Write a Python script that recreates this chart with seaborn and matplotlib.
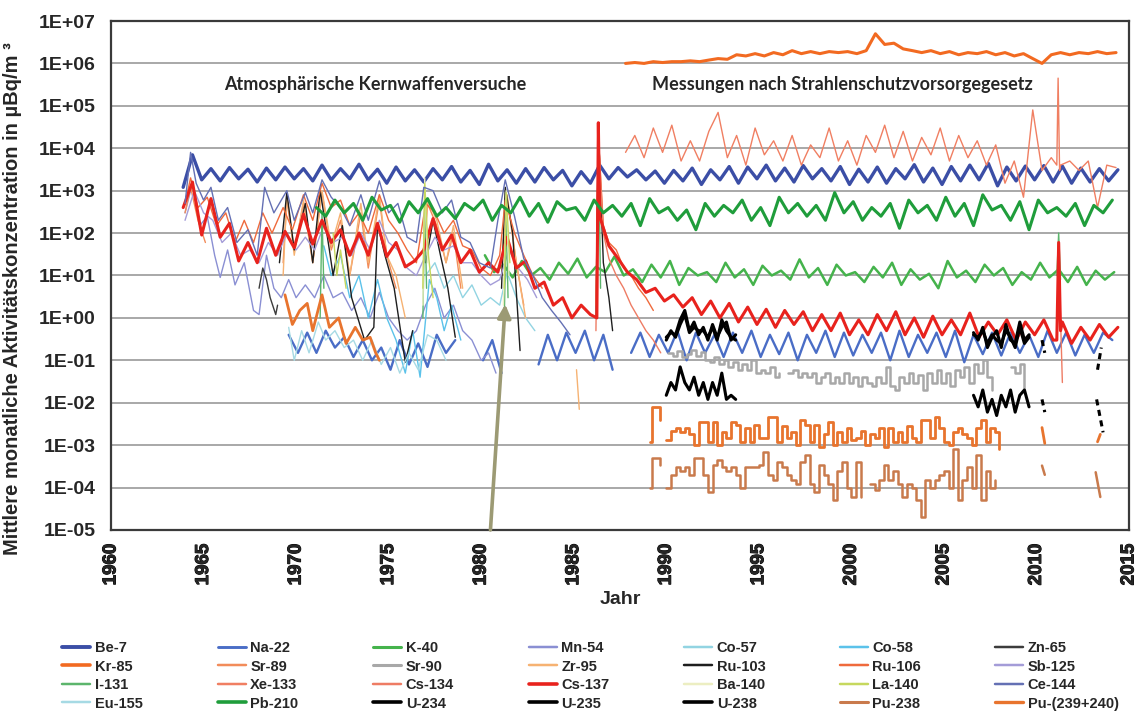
import numpy as np
import matplotlib
matplotlib.use("Agg")
import matplotlib.pyplot as plt
import matplotlib.patheffects as pe
from matplotlib.lines import Line2D
from matplotlib.ticker import FixedLocator, MultipleLocator, NullLocator, FuncFormatter
import seaborn as sns

nan = np.nan

# ------------------------------------------------------------------
# Data (µBq/m³), approximate values
# Half-year grids: value i belongs to year start + 0.5*i
# ------------------------------------------------------------------
be7_start = 1963.9
be7 = [1200, 7000, 1800, 3300, 1700, 3500, 1900, 3200, 1600, 3400,
       1800, 3600, 1900, 3300, 1700, 4000, 1800, 3300, 1900, 4200,
       1800, 3200, 1500, 3600, 1700, 3100, 1600, 3300, 1800, 3700,
       1600, 3000, 1400, 4200, 1700, 3100, 1500, 3300, 1600, 3500,
       1800, 3000, 1300, 2800, 1500, 4000, 1900, 3500, 2100, 3100,
       1800, 2900, 1500, 3000, 1700, 3400, 1400, 3100, 1800, 3700,
       1500, 3600, 1900, 4000, 1700, 3400, 1600, 3900, 1900, 3300,
       1700, 3700, 1400, 3200, 1600, 3600, 1500, 3300, 1900, 4100,
       1600, 3400, 1400, 3700, 1700, 4000, 1800, 4400, 1300, 3600,
       1700, 3800, 1800, 3900, 1600, 3800, 1500, 3400, 1600, 3300,
       1700, 3100]

na22_start = 1969.6
na22 = [0.4, 0.15, 0.45, 0.15, 0.5, 0.2, 0.35, 0.12, 0.3, 0.1,
        0.2, 0.06, 0.3, 0.08, 0.25, 0.07, 0.4, 0.15, 0.3, nan,
        nan, 0.1, 0.3, 0.05, nan, nan, nan, 0.08, 0.4, 0.1,
        0.45, 0.15, 0.5, 0.1, 0.4, 0.06, nan, 0.15, 0.45, 0.12,
        0.4, 0.15, 0.5, 0.1, 0.45, 0.15, 0.4, 0.12, 0.45, 0.15,
        0.5, 0.12, 0.4, 0.14, 0.45, 0.1, 0.4, 0.15, 0.5, 0.12,
        0.45, 0.13, 0.4, 0.15, 0.45, 0.1, 0.5, 0.12, 0.4, 0.15,
        0.45, 0.12, 0.5, 0.09, 0.4, 0.14, 0.45, 0.13, 0.45, 0.15,
        0.4, 0.12, 0.5, 0.15, 0.45, 0.13, 0.4, 0.15, 0.45, 0.3]

k40_start = 1980.2
k40 = [30, 12, 18, 9, 22, 10, 15, 8, 20, 11, 25, 9, 16, 12, 28, 10, 14, 7,
       18, 9, 22, 6, 15, 10, 12, 7, 20, 9, 14, 6, 17, 10, 13, 8, 24, 9,
       15, 6, 18, 10, 12, 7, 16, 9, 20, 6, 14, 8, 11, 5, 22, 9, 13, 7,
       18, 10, 15, 6, 12, 8, 20, 9, 14, 7, 16, 6, 13, 8, 12]

pb210_start = 1971.1
pb210 = [400, 250, 600, 300, 500, 200, 700, 350, 450, 180, 550, 300, 650,
         250, 400, 220, 500, 350, 600, 200, 450, 300, 700, 250, 500, 180,
         550, 350, 400, 200, 600, 300, 450, 250, 500, 150, 650, 300, 400,
         200, 350, 120, 500, 250, 450, 300, 600, 200, 400, 150, 700, 300,
         500, 250, 450, 200, 900, 300, 550, 200, 400, 250, 500, 130, 600,
         300, 450, 200, 700, 250, 500, 150, 800, 350, 450, 200, 550, 120,
         600, 300, 400, 250, 500, 150, 450, 300, 600]

kr85_start = 1987.8
kr85 = [1.0e6, 1.05e6, 1.0e6, 1.1e6, 1.05e6, 1.1e6, 1.1e6, 1.15e6, 1.1e6,
        1.2e6, 1.3e6, 1.25e6, 1.6e6, 1.5e6, 1.7e6, 1.5e6, 1.8e6, 1.6e6,
        2.0e6, 1.7e6, 1.9e6, 1.7e6, 1.9e6, 1.8e6, 1.9e6, 1.7e6, 2.0e6,
        5.0e6, 2.8e6, 3.0e6, 2.2e6, 2.0e6, 1.8e6, 2.0e6, 1.7e6, 1.9e6,
        1.6e6, 1.8e6, 1.7e6, 1.9e6, 1.6e6, 1.8e6, 1.5e6, 1.7e6, 1.3e6,
        1.0e6, 1.6e6, 1.8e6, 1.6e6, 1.8e6, 1.7e6, 1.9e6, 1.7e6, 1.8e6]

xe133_start = 1987.8
xe133 = [8e3, 2e4, 6e3, 3e4, 8e3, 3.5e4, 5e3, 1.5e4, 5e3, 2.5e4, 7e4, 6e3,
         2e4, 4e3, 3e4, 7e3, 1.5e4, 5e3, 2e4, 4e3, 1.2e4, 6e3, 3e4, 5e3,
         1.5e4, 4e3, 2e4, 8e3, 3.5e4, 6e3, 2.5e4, 5e3, 1.8e4, 7e3, 3e4,
         5e3, 2e4, 6e3, 1.5e4, 4e3, 1.2e4, 1.5e3, 5e3, 7e2, 8e4, 3e3, 6e3,
         4e3, 5e3, 3e3, 5e3, 4e2, 4e3, 3.5e3]
xe133_spike_years = [2011.1, 2011.17, 2011.25]
xe133_spike_vals = [4e3, 4.5e5, 3e3]

cs137_start = 1963.9
cs137 = [400, 1600, 90, 650, 80, 170, 22, 60, 20, 130,
         30, 110, 45, 280, 55, 200, 60, 120, 30, 100,
         30, 170, 28, 60, 16, 22, 40, 220, 40, 90,
         20, 40, 12, 20, 12, 80, 15, 22, 5, 7,
         2, 3, 1, 2, 1.2, 250, 50, 25, 12, 8,
         4, 5, 2.5, 3.5, 1.8, 3, 1.2, 2.5, 1.0, 2.2,
         0.8, 1.8, 0.7, 1.6, 0.6, 1.5, 0.7, 1.4, 0.5, 1.2,
         0.5, 1.3, 0.4, 0.9, 0.4, 1.2, 0.5, 1.4, 0.4, 1.0,
         0.35, 1.1, 0.4, 0.9, 0.4, 1.3, 0.35, 0.8, 0.4, 0.9,
         0.3, 0.8, 0.4, 0.9, 0.3, 0.8, 0.25, 0.6, 0.3, 0.7,
         0.35, 0.6]
cs137_spike_years = [1986.25, 1986.33, 2011.1, 2011.2, 2011.3]
cs137_spike_vals = [1.0, 4e4, 0.3, 60, 0.5]

# quarterly series (value i belongs to start + 0.25*i)
sr90_start = 1990.1
sr90 = [0.15, 0.13, 0.17, 0.12, 0.14, 0.18, 0.13, 0.16, 0.10, 0.09,
        0.12, 0.08, 0.10, 0.07, 0.09, 0.06, 0.08, 0.06, 0.10, 0.05,
        0.06, 0.05, 0.07, 0.04, 0.05, nan, 0.05, 0.06, 0.04, 0.05,
        0.04, 0.05, 0.03, 0.04, 0.05, 0.03, 0.04, 0.03, 0.05, 0.03,
        0.04, 0.025, 0.04, 0.03, 0.025, 0.04, 0.03, 0.07, 0.025, 0.02,
        0.04, 0.03, 0.05, 0.03, 0.045, 0.02, 0.05, 0.03, 0.06, 0.03,
        0.05, 0.025, 0.06, 0.04, 0.07, 0.03, 0.08, 0.05, 0.1, 0.04,
        0.02, nan, nan, nan, 0.07, 0.05, 0.08, 0.02]

pu239_start = 1990.0
pu239 = [1.3e-3, 2.2e-3, 2.5e-3, 2.0e-3, 2.6e-3, 1.8e-3, 1.0e-3, 3.5e-3,
         3.5e-3, 1.2e-3, 3.5e-3, 1.0e-3, 2.0e-3, 1.5e-3, 3.5e-3, 3.0e-3,
         1.2e-3, 2.5e-3, 1.2e-3, 3.0e-3, 1.5e-3, 1.5e-3, 4.5e-3, 4.5e-3,
         1.2e-3, 2.8e-3, 1.5e-3, 2.0e-3, 1.0e-3, 4.0e-3, 3.0e-3, 1.2e-3,
         3.0e-3, 0.9e-3, 1.8e-3, 3.5e-3, 1.0e-3, 2.0e-3, 1.2e-3, 2.5e-3,
         1.3e-3, 1.5e-3, 2.2e-3, 1.0e-3, 1.8e-3, 1.5e-3, 2.5e-3, 0.9e-3,
         2.5e-3, 1.2e-3, 2.0e-3, 1.2e-3, 2.8e-3, 1.5e-3, 1.2e-3, 4.0e-3,
         4.0e-3, 1.5e-3, 4.5e-3, 2.5e-3, 1.2e-3, 1.0e-3, 2.0e-3, 2.5e-3,
         1.8e-3, 1.5e-3, 1.0e-3, 2.5e-3, 4.0e-3, 1.2e-3, 2.5e-3, 2.0e-3,
         0.8e-3]
pu239_first_years = [1989.1, 1989.25, 1989.5, 1989.65]
pu239_first_vals = [1.2e-3, 8e-3, 8e-3, 4e-3]
pu239_early_years = [1969.4, 1969.8, 1970.2, 1970.6, 1970.9, 1971.4, 1971.8,
                     1972.3, 1972.7, 1973.2, 1973.6, 1974.0, 1974.3, 1974.5]
pu239_early_vals = [3.5, 0.7, 1.5, 2.2, 0.5, 3.5, 0.6, 1.0, 0.25, 0.6, 0.3,
                    0.35, 0.15, 0.1]
pu239_late_years = [2010.3, 2010.45, nan, 2013.3, 2013.45]
pu239_late_vals = [2.6e-3, 1.1e-3, nan, 1.2e-3, 1.8e-3]

pu238_start = 1990.0
pu238 = [1.0e-4, 2.0e-4, 3.0e-4, 2.5e-4, 3.0e-4, 2.0e-4, 5.0e-4, 5.0e-4,
         2.0e-4, 8e-5, 3.5e-4, 4.5e-4, 3.0e-4, 2.5e-4, 3.0e-4, 2.0e-4,
         1.0e-4, 3.0e-4, 3.0e-4, 3.0e-4, 3.5e-4, 7.0e-4, 2.0e-4, 1.5e-4,
         4.0e-4, 3.0e-4, 2.0e-4, 1.5e-4, 1.2e-4, 4.0e-4, 6.0e-4, 1.2e-4,
         8e-5, 3.5e-4, 2.0e-4, 1.2e-4, 5e-5, 2.5e-4, 4.0e-4, 1.0e-4,
         6e-5, 4.0e-4, 6e-5, nan, 1.2e-4, 9e-5, 1.5e-4, 3.5e-4,
         1.5e-4, 2.5e-4, 1.2e-4, 6e-5, 1.2e-4, 1.0e-4, 5e-5, 2e-5,
         1.5e-4, 1.0e-4, 1.5e-4, 2.0e-4, 2.5e-4, 1.0e-4, 8e-4, 5e-5,
         1.5e-4, 3.0e-4, 1.0e-4, 6e-4, 5e-5, 2.5e-4, 1.0e-4, 1.5e-4]
pu238_first_years = [1989.1, 1989.25, 1989.5, 1989.65]
pu238_first_vals = [1e-4, 5e-4, 5e-4, 3.5e-4]
pu238_late_years = [2010.3, 2010.45, nan, 2013.2, 2013.45]
pu238_late_vals = [3.3e-4, 2e-4, nan, 2.3e-4, 6e-5]

u234_start_a, u234_start_b = 1990.0, 2006.6
u234_a = [0.35, 0.45, 0.4, 0.9, 1.5, 0.5, 0.8, 0.4, 0.6, 0.3, 0.7, 0.35, 0.6, 0.8, 0.3, 0.4]
u234_b = [0.45, 0.3, 0.6, 0.2, 0.35, 0.5, 0.2, 0.7, 0.3, 0.25, 0.8, 0.3, 0.4]
u238_a = [0.3, 0.5, 0.35, 0.7, 1.2, 0.45, 0.6, 0.5, 0.5, 0.35, 0.6, 0.3, 0.9, 0.5, 0.35, 0.3]
u238_b = [0.4, 0.35, 0.5, 0.25, 0.4, 0.3, 0.25, 0.5, 0.35, 0.2, 0.6, 0.25, 0.35]
u_dash_years = [2010.3, 2010.45, nan, 2013.3, 2013.5]
u234_dash_vals = [0.3, 0.15, nan, 0.06, 0.2]
u235_a = [0.015, 0.03, 0.02, 0.07, 0.03, 0.02, 0.04, 0.015, 0.03, 0.012, 0.03, 0.015, 0.05, 0.012, 0.015, 0.012]
u235_b = [0.015, 0.008, 0.02, 0.006, 0.012, 0.005, 0.015, 0.008, 0.02, 0.006, 0.015, 0.02, 0.008]
u235_dash_years = [2010.3, 2010.45, nan, 2013.25, 2013.6]
u235_dash_vals = [0.012, 0.006, nan, 0.012, 0.002]

# irregular weapons-test era series (years, values)
mn54_years = [1964.0, 1964.4, 1964.8, 1965.2, 1965.6, 1965.9, 1966.3, 1966.7, 1967.2, 1967.7,
              1968.0, 1968.4, 1968.8, 1969.2, 1969.6, 1970.0, 1970.5, 1971.0, 1971.5, 1972.0,
              1972.5, 1973.0, 1973.5, 1974.0, 1974.5, 1975.0, 1975.5, 1976.0, 1976.5, 1977.0,
              1977.5, 1978.0, 1978.5, 1979.0, 1979.5, 1980.0, 1980.4, 1980.8]
mn54_vals = [300, 1500, 150, 250, 30, 9, 40, 6, 20, 1.5,
             1.2, 30, 5, 3, 8, 3, 6, 3, 10, 3,
             4, 1.5, 3, 1, 4, 1, 0.5, 0.3, 0.5, 2,
             5, 1, 2, 0.5, 0.3, 0.1, 0.15, 0.05]
co57_years = [1977.0, 1977.5, 1978.0, 1978.5, 1979.0, 1979.5, 1980.0, 1980.5, 1981.0, 1981.4, 1981.9, 1982.4, 1982.9]
co57_vals = [10, 20, 5, 10, 3, 6, 2, 3, 2, 12, 3, 1, 0.5]
co58_years = [1971.5, 1971.9, 1972.4, 1972.9, 1973.4, 1973.9, 1974.4, 1974.9, 1975.4, 1975.9,
              1976.3, 1976.7, 1977.2, 1977.6, 1978.0, 1978.4, 1978.9]
co58_vals = [50, 10, 30, 3, 10, 1, 8, 1, 0.3, 0.05, 0.5, 0.04, 8, 3, 0.5, 2, 0.3]
zn65_years = [1968.0, 1968.2, 1968.4, 1968.6, 1968.9, 1969.0]
zn65_vals = [5, 15, 8, 3, 1.2, 2]
sr89_years = [1964.0, 1964.3, 1964.7, 1965.1, 1967.0, 1969.3, 1969.5, 1969.9, 1970.4, 1970.9,
              1971.4, 1971.9, 1972.4, 1972.9, 1973.5, 1973.9, 1974.5, 1974.9, 1975.4, 1976.0,
              1976.9, 1977.1, 1977.6, 1978.1, 1978.5, 1978.9, 1980.0, 1981.1, 1981.4, 1981.9, 1982.3]
sr89_vals = [300, 1200, 200, 60, nan, 20, 600, 40, 500, 20,
             900, 40, 200, 10, 300, 15, 600, 30, 5, nan,
             20, 500, 150, 20, 100, 5, nan, 10, 700, 20, 2]
zr95_years = [1969.3, 1969.5, 1969.9, 1970.4, 1970.9, 1971.4, 1971.9, 1972.4, 1972.9, 1973.5,
              1973.9, 1974.5, 1974.9, 1975.4, 1975.9, 1976.4, 1976.9, 1977.1, 1977.6, 1978.1,
              1978.5, 1979.0, 1980.0, 1981.1, 1981.4, 1981.9, 1982.4, 1984.0, 1985.15, 1985.3]
zr95_vals = [10, 800, 30, 600, 20, 1000, 50, 300, 10, 500,
             20, 800, 30, 10, 1, nan, 30, 600, 200, 20,
             150, 5, nan, 20, 800, 20, 1, nan, 0.06, 0.007]
ru103_years = [1969.1, 1969.5, 1969.9, 1970.5, 1970.9, 1971.3, 1971.8, 1972.0, 1972.5, 1973.0,
               1973.7, 1974.2, 1974.4, 1974.8, 1975.3, 1975.9, 1976.3, 1976.6, 1977.0, 1977.4,
               1977.8, 1978.2, 1978.6, 1980.0, 1981.1, 1981.3, 1981.7, 1982.1, 1984.0, 1986.2,
               1986.33, 1986.6, 1986.9, 1987.1]
ru103_vals = [20, 900, 40, 500, 20, 1000, 40, 10, 150, 3,
              0.3, 0.6, 170, 30, 5, 0.09, 0.5, nan, 20, 200,
              30, 5, 0.35, nan, 5, 1200, 100, 0.17, nan, 1,
              30000, 20, 3, 0.5]
ru106_years = [1964.0, 1964.3, 1964.7, 1965.2, 1965.7, 1966.2, 1966.7, 1967.2, 1967.7, 1968.2,
               1968.7, 1969.3, 1969.8, 1970.4, 1970.9, 1971.4, 1971.9, 1972.4, 1972.9, 1973.4,
               1973.9, 1974.5, 1975.0, 1975.5, 1976.0, 1976.5, 1977.0, 1977.5, 1978.0, 1978.5,
               1979.0, 1979.5, 1980.0, 1980.5, 1981.0, 1981.3, 1981.8, 1982.3, 1982.8, 1983.3,
               1984.0, 1986.2, 1986.33, 1986.6, 1986.9, 1987.3, 1987.7, 1988.1, 1988.5, 1988.9, 1989.3]
ru106_vals = [500, 2000, 400, 700, 150, 300, 60, 200, 60, 300,
              100, 400, 120, 800, 200, 1500, 400, 600, 150, 300,
              100, 800, 200, 100, 40, 20, 500, 300, 100, 200,
              50, 40, 15, 10, 30, 600, 100, 30, 10, 5,
              nan, 2, 20000, 150, 60, 40, 15, 10, 5, 3, 1.5]
sb125_start = 1964.0
sb125 = [200, 1000, 300, 200, 60, 100, 30, 40, 20, 60, 30, 100, 40, 80, 40, 150,
         60, 80, 30, 100, 40, 200, 60, 40, 15, 10, 30, 80, 40, 50, 20, 20, 10,
         6, 8, 40, 15, 8, 3]
i131_years = [1971.3, 1971.4, 1971.5, 1976.0, 1976.85, 1976.95, 1977.05, 1980.0, 1981.25, 1981.35,
              1981.45, 1984.0, 1986.25, 1986.33, 1986.45, 2000.0, 2011.1, 2011.2, 2011.3]
i131_vals = [1, 300, 5, nan, 1, 400, 5, nan, 1, 300, 3, nan, 1, 30000, 5, nan, 10, 100, 8]
cs134_years = [1986.2, 1986.33, 1986.6, 1986.9, 1987.3, 1987.7, 1988.1, 1988.5, 1988.9, 1989.3,
               1989.7, 2000.0, 2011.1, 2011.2, 2011.3, 2011.4]
cs134_vals = [0.5, 20000, 100, 25, 10, 5, 2, 1, 0.5, 0.3, 0.15, nan, 0.3, 40, 1, 0.03]
ba140_years = [1976.85, 1976.95, 1977.1, 1980.0, 1981.2, 1981.35, 1981.5]
ba140_vals = [2, 2000, 20, nan, 2, 1000, 10]
la140_years = [1972.0, 1972.2, 1972.4, 1972.7, 1975.0, 1976.85, 1976.95, 1977.15, 1977.4, 1980.0,
               1981.25, 1981.35, 1981.55]
la140_vals = [100, 10, 40, 5, nan, 5, 1500, 30, 3, nan, 5, 900, 20]
ce144_years = [1964.0, 1964.3, 1964.6, 1965.0, 1965.4, 1965.8, 1966.3, 1966.8, 1967.4, 1967.9,
               1968.3, 1968.8, 1969.5, 1969.9, 1970.5, 1970.9, 1971.4, 1971.9, 1972.4, 1972.9,
               1973.5, 1973.9, 1974.5, 1975.0, 1975.5, 1976.0, 1976.5, 1976.9, 1977.4, 1977.9,
               1978.4, 1978.9, 1979.4, 1979.9, 1980.5, 1980.9, 1981.3, 1981.8, 1982.3, 1982.8,
               1983.3, 1983.8, 1984.3, 1984.8]
ce144_vals = [500, 8000, 1500, 600, 1200, 200, 400, 60, 120, 30,
              1200, 300, 1000, 200, 900, 300, 1800, 700, 400, 150,
              800, 200, 1700, 300, 500, 80, 60, 1200, 1000, 300,
              600, 80, 60, 20, 15, 200, 1800, 250, 25, 10,
              3, 1.5, 0.8, 0.4]
eu155_years = [1969.6, 1969.9, 1970.3, 1970.7, 1971.2, 1971.6, 1972.1, 1972.6, 1973.1, 1973.6,
               1974.1, 1974.6, 1975.1, 1975.6, 1976.1, 1976.6, 1977.1, 1977.6, 1978.1]
eu155_vals = [0.6, 0.1, 0.5, 0.15, 0.8, 0.3, 0.5, 0.2, 0.3, 0.1,
              0.3, 0.08, 0.2, 0.05, 0.15, 0.06, 0.4, 0.3, 0.1]

nuclides = ["Be-7", "Na-22", "K-40", "Mn-54", "Co-57", "Co-58", "Zn-65",
            "Kr-85", "Sr-89", "Sr-90", "Zr-95", "Ru-103", "Ru-106", "Sb-125",
            "I-131", "Xe-133", "Cs-134", "Cs-137", "Ba-140", "La-140", "Ce-144",
            "Eu-155", "Pb-210", "U-234", "U-235", "U-238", "Pu-238", "Pu-(239+240)"]

x_tick_years = [1960, 1965, 1970, 1975, 1980, 1985, 1990, 1995, 2000, 2005, 2010, 2015]
annotation_texts = ["Atmosphärische Kernwaffenversuche",
                    "Messungen nach Strahlenschutzvorsorgegesetz"]
y_label = "Mittlere monatliche Aktivitätskonzentration in µBq/m ³"
x_label = "Jahr"

# ------------------------------------------------------------------
def grid(start, step, vals):
    v = np.asarray(vals, float)
    return start + step * np.arange(len(v)), v


def pairs(xs, vs):
    n = min(len(xs), len(vs))
    return np.asarray(xs[:n], float), np.asarray(vs[:n], float)


def merged(base, xs, vs):
    x = np.concatenate([base[0], np.asarray(xs, float)])
    v = np.concatenate([base[1], np.asarray(vs, float)])
    o = np.argsort(x, kind="stable")
    return x[o], v[o]


style = {  # colour, line width
    "Be-7": ("#3b4ea6", 2.4), "Na-22": ("#4a6dc6", 1.7), "K-40": ("#45b34c", 1.8),
    "Mn-54": ("#8a8fd3", 1.0), "Co-57": ("#92d4e2", 1.0), "Co-58": ("#5bc2ea", 1.0),
    "Zn-65": ("#3c3c3c", 1.0), "Kr-85": ("#f26a21", 2.2), "Sr-89": ("#f28c5a", 1.0),
    "Sr-90": ("#a8a8a8", 1.8), "Zr-95": ("#f6b272", 1.0), "Ru-103": ("#1e1e1e", 1.0),
    "Ru-106": ("#ef6a3c", 1.0), "Sb-125": ("#a49cd8", 1.0), "I-131": ("#5cb56c", 1.0),
    "Xe-133": ("#f07f62", 1.0), "Cs-134": ("#ee7c64", 1.0), "Cs-137": ("#e8221d", 2.2),
    "Ba-140": ("#eceec2", 1.0), "La-140": ("#c6d85e", 1.0), "Ce-144": ("#6470b4", 1.0),
    "Eu-155": ("#a6dae4", 1.0), "Pb-210": ("#1f9d3b", 2.2), "U-234": ("#000000", 2.2),
    "U-235": ("#000000", 2.2), "U-238": ("#000000", 2.2), "Pu-238": ("#c97a4c", 1.8),
    "Pu-(239+240)": ("#e8742e", 2.0),
}

parts = {
    "Be-7": [(grid(be7_start, 0.5, be7), "-", "default")],
    "Na-22": [(grid(na22_start, 0.5, na22), "-", "default")],
    "K-40": [(grid(k40_start, 0.5, k40), "-", "default")],
    "Mn-54": [(pairs(mn54_years, mn54_vals), "-", "default")],
    "Co-57": [(pairs(co57_years, co57_vals), "-", "default")],
    "Co-58": [(pairs(co58_years, co58_vals), "-", "default")],
    "Zn-65": [(pairs(zn65_years, zn65_vals), "-", "default")],
    "Kr-85": [(grid(kr85_start, 0.5, kr85), "-", "default")],
    "Sr-89": [(pairs(sr89_years, sr89_vals), "-", "default")],
    "Sr-90": [(grid(sr90_start, 0.25, sr90), "-", "steps-post")],
    "Zr-95": [(pairs(zr95_years, zr95_vals), "-", "default")],
    "Ru-103": [(pairs(ru103_years, ru103_vals), "-", "default")],
    "Ru-106": [(pairs(ru106_years, ru106_vals), "-", "default")],
    "Sb-125": [(grid(sb125_start, 0.5, sb125), "-", "default")],
    "I-131": [(pairs(i131_years, i131_vals), "-", "default")],
    "Xe-133": [(merged(grid(xe133_start, 0.5, xe133), xe133_spike_years, xe133_spike_vals), "-", "default")],
    "Cs-134": [(pairs(cs134_years, cs134_vals), "-", "default")],
    "Cs-137": [(merged(grid(cs137_start, 0.5, cs137), cs137_spike_years, cs137_spike_vals), "-", "default")],
    "Ba-140": [(pairs(ba140_years, ba140_vals), "-", "default")],
    "La-140": [(pairs(la140_years, la140_vals), "-", "default")],
    "Ce-144": [(pairs(ce144_years, ce144_vals), "-", "default")],
    "Eu-155": [(pairs(eu155_years, eu155_vals), "-", "default")],
    "Pb-210": [(grid(pb210_start, 0.5, pb210), "-", "default")],
    "U-234": [(grid(u234_start_a, 0.25, u234_a), "-", "default"),
              (grid(u234_start_b, 0.25, u234_b), "-", "default"),
              (pairs(u_dash_years, u234_dash_vals), (0, (2, 1.5)), "default")],
    "U-235": [(grid(u234_start_a, 0.25, u235_a), "-", "default"),
              (grid(u234_start_b, 0.25, u235_b), "-", "default"),
              (pairs(u235_dash_years, u235_dash_vals), (0, (2, 1.5)), "default")],
    "U-238": [(grid(u234_start_a, 0.25, u238_a), "-", "default"),
              (grid(u234_start_b, 0.25, u238_b), "-", "default")],
    "Pu-238": [(pairs(pu238_first_years, pu238_first_vals), "-", "steps-post"),
               (grid(pu238_start, 0.25, pu238), "-", "steps-post"),
               (pairs(pu238_late_years, pu238_late_vals), "-", "default")],
    "Pu-(239+240)": [(pairs(pu239_early_years, pu239_early_vals), "-", "default"),
                     (pairs(pu239_first_years, pu239_first_vals), "-", "steps-post"),
                     (grid(pu239_start, 0.25, pu239), "-", "steps-post"),
                     (pairs(pu239_late_years, pu239_late_vals), "-", "default")],
}

# ------------------------------------------------------------------
sns.set_style("white")
plt.rcParams["font.family"] = ["Liberation Sans", "DejaVu Sans"]
plt.rcParams["font.weight"] = "bold"
plt.rcParams["axes.labelweight"] = "bold"
plt.rcParams["axes.unicode_minus"] = False

W, H = 1137, 727
fig = plt.figure(figsize=(W / 100, H / 100), dpi=100)
ax = fig.add_axes([111 / W, 1 - 530 / H, (1129 - 111) / W, (530 - 21) / H])
ax.set_yscale("log")
ax.set_xlim(1960, 2015)
ax.set_ylim(1e-5, 1e7)


def draw(x, y, color, lw, ls, ds):
    x = np.asarray(x, float)
    y = np.asarray(y, float)
    ok = np.flatnonzero(~np.isnan(y) & ~np.isnan(x))
    if len(ok) == 0:
        return
    runs = np.split(ok, np.where(np.diff(ok) > 1)[0] + 1)
    for r in runs:
        if len(r) < 2:
            continue
        sns.lineplot(x=x[r], y=y[r], ax=ax, color=color, linewidth=lw,
                     linestyle=ls, drawstyle=ds, sort=False, estimator=None,
                     legend=False)


for name in nuclides:
    col, lw = style[name]
    for (xy, ls, ds) in parts[name]:
        draw(xy[0], xy[1], col, lw, ls, ds)

# grid, ticks, spines
ax.yaxis.grid(True, which="major", color="#a8a8a8", linewidth=1.4)
ax.xaxis.grid(False)
ax.set_axisbelow(True)
ax.yaxis.set_major_locator(FixedLocator([10.0 ** k for k in range(-5, 8)]))
ax.yaxis.set_minor_locator(NullLocator())
ax.yaxis.set_major_formatter(FuncFormatter(lambda v, p: "1E{:+03d}".format(int(round(np.log10(v))))))
ax.xaxis.set_major_locator(FixedLocator(x_tick_years))
ax.xaxis.set_major_formatter(FuncFormatter(lambda v, p: "{:d}".format(int(round(v)))))
ax.xaxis.set_minor_locator(MultipleLocator(1))
ax.tick_params(axis="y", which="major", direction="out", length=7, width=1.2,
               color="#606060", labelsize=14, pad=4)
ax.tick_params(axis="x", which="major", direction="out", length=6, width=1.2,
               color="#606060", labelsize=13.5, labelrotation=90, pad=4)
ax.tick_params(axis="x", which="minor", direction="inout", length=6, width=1.0,
               color="#606060")
for s in ax.spines.values():
    s.set_color("#3a3a3a")
    s.set_linewidth(1.6)
    s.set_visible(True)

ax.set_ylabel(y_label, fontsize=14.5, fontweight="bold")
ax.yaxis.set_label_coords(-0.087, 0.455)
ax.set_xlabel(x_label, fontsize=14, fontweight="bold", labelpad=4)

# annotations
ax.text(1974.3, 3.2e5, annotation_texts[0], ha="center", va="center",
        fontsize=13, fontweight="bold", family=["Lato", "DejaVu Sans"])
ax.text(1999.5, 3.2e5, annotation_texts[1], ha="center", va="center",
        fontsize=13, fontweight="bold", family=["Lato", "DejaVu Sans"])
ax.annotate("", xy=(1981.3, 2.1), xytext=(1980.5, 1e-5),
            arrowprops=dict(arrowstyle="-|>", color="#9c9a74", lw=2.6,
                            mutation_scale=20, shrinkA=0, shrinkB=0))

# legend: 4 rows x 7 columns, filled row-wise
handles = [Line2D([0], [0], color=style[n][0], lw=max(style[n][1], 1.4) + 0.4, label=n)
           for n in nuclides]
for c in range(7):
    hs = [handles[r * 7 + c] for r in range(4)]
    fig.legend(handles=hs, loc="upper left",
               bbox_to_anchor=((62 + 155.5 * c) / W, 1 - 641 / H),
               frameon=False, prop=dict(weight="bold", size=10.5),
               handlelength=1.95, handletextpad=0.3, labelspacing=0.31,
               borderpad=0, borderaxespad=0)

# make the rotated year labels as heavy as the reference
fig.canvas.draw()
for lab in ax.get_xticklabels():
    lab.set_fontweight("bold")
    lab.set_path_effects([pe.withStroke(linewidth=0.7, foreground="black")])

fig.savefig("out.png", dpi=100)
